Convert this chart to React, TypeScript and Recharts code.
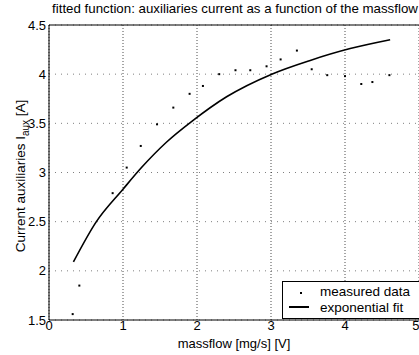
import { ComposedChart, Scatter, Line, XAxis, YAxis, CartesianGrid, ReferenceLine } from 'recharts';

const FONT = '"Liberation Sans", Arial, sans-serif';

const chartTitle = 'fitted function: auxiliaries current as a function of the massflow';
const xTicks = [0, 1, 2, 3, 4, 5];
const yTicks = [1.5, 2, 2.5, 3, 3.5, 4, 4.5];

const measuredX = [0.32, 0.41, 0.86, 1.05, 1.24, 1.46, 1.68, 1.9, 2.08, 2.3, 2.52, 2.72, 2.94, 3.13, 3.35, 3.55, 3.76, 4.0, 4.22, 4.37, 4.6];
const measuredY = [1.56, 1.85, 2.79, 3.05, 3.27, 3.49, 3.66, 3.8, 3.88, 4.0, 4.04, 4.04, 4.08, 4.15, 4.24, 4.05, 3.99, 3.98, 3.9, 3.92, 3.99];

const fitX = [0.33, 0.64, 1.0, 1.25, 1.59, 1.93, 2.4, 3.01, 3.53, 4.07, 4.61];
const fitY = [2.09, 2.5, 2.83, 3.05, 3.31, 3.52, 3.77, 4.0, 4.14, 4.26, 4.35];

const measured = measuredX.map((x, i) => ({ x, y: measuredY[i] }));
const fit = fitX.map((x, i) => ({ x, y: fitY[i] }));

const Dot = (props: any) => {
  const { cx, cy } = props;
  if (cx == null || cy == null) return null;
  return <rect x={cx - 1} y={cy - 1} width={2} height={2} fill="#000" />;
};

const YLabel = () => {
  const cx = 25;
  const cy = 176;
  return (
    <text
      x={cx}
      y={cy}
      transform={`rotate(-90 ${cx} ${cy})`}
      textAnchor="middle"
      fontSize={13.5}
      fontFamily={FONT}
      fill="#000"
    >
      Current auxiliaries I
      <tspan dy={4} fontSize={10}>aux</tspan>
      <tspan dy={-4}> [A]</tspan>
    </text>
  );
};

const XLabel = () => (
  <text x={234} y={348} textAnchor="middle" fontSize={13} fontFamily={FONT} fill="#000">
    massflow [mg/s] [V]
  </text>
);

export default function App() {
  return (
    <div style={{ position: 'absolute', left: 0, top: 0, width: 419, height: 355, background: '#fff', overflow: 'hidden' }}>
      <div
        style={{
          position: 'absolute',
          left: 0,
          width: 470,
          top: 1,
          textAlign: 'center',
          fontFamily: FONT,
          fontSize: 13.3,
          whiteSpace: 'nowrap',
          color: '#000',
        }}
      >
        {chartTitle}
      </div>
      <ComposedChart width={419} height={355} margin={{ top: 25, right: 0, bottom: 0, left: 0 }}>
        <CartesianGrid horizontal={false} stroke="#000" strokeDasharray="1 2" strokeOpacity={0.7} />
        <CartesianGrid vertical={false} stroke="#000" strokeDasharray="1 5" strokeOpacity={0.5} />
        <XAxis
          type="number"
          dataKey="x"
          domain={[0, 5]}
          ticks={xTicks}
          allowDataOverflow
          height={35}
          tickSize={0}
          tickMargin={1}
          stroke="#000"
          tick={{ fill: '#000', fontSize: 13, fontFamily: FONT }}
          label={<XLabel />}
        />
        <YAxis
          type="number"
          dataKey="y"
          domain={[1.5, 4.5]}
          ticks={yTicks}
          allowDataOverflow
          width={49}
          tickSize={0}
          tickMargin={3}
          stroke="#000"
          tick={{ fill: '#000', fontSize: 13, fontFamily: FONT }}
          label={<YLabel />}
        />
        <ReferenceLine y={4.5} stroke="#000" />
        <Scatter data={measured} dataKey="y" shape={<Dot />} isAnimationActive={false} />
        <Line
          data={fit}
          dataKey="y"
          type="monotone"
          stroke="#000"
          strokeWidth={1.6}
          dot={false}
          isAnimationActive={false}
        />
      </ComposedChart>
      <div
        style={{
          position: 'absolute',
          left: 282,
          top: 281,
          width: 140,
          height: 38,
          border: '1px solid #000',
          background: '#fff',
          fontFamily: FONT,
          fontSize: 13.5,
          lineHeight: '15px',
          color: '#000',
          boxSizing: 'border-box',
        }}
      >
        <div style={{ position: 'absolute', left: 17, top: 10, width: 2, height: 2, background: '#000' }} />
        <div style={{ position: 'absolute', left: 37, top: 2, whiteSpace: 'nowrap' }}>measured data</div>
        <div style={{ position: 'absolute', left: 6, top: 24, width: 20, height: 1.5, background: '#000' }} />
        <div style={{ position: 'absolute', left: 37, top: 18, whiteSpace: 'nowrap' }}>exponential fit</div>
      </div>
    </div>
  );
}
